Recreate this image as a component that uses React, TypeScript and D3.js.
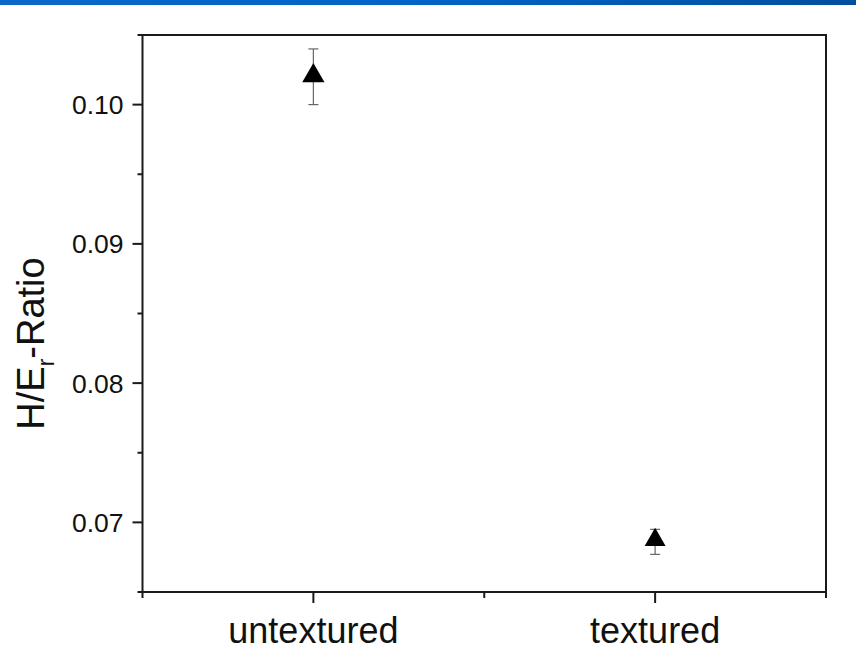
import React from "react";
import * as d3 from "d3";

// Samples and their mean H/Er ratio with error
const categories = ["untextured", "textured"];
const ratioValues = [0.102, 0.0686];
const ratioErrors = [0.002, 0.0009];
const yTickValues = [0.07, 0.08, 0.09, 0.1];
const yMinorTickValues = [0.065, 0.075, 0.085, 0.095, 0.105];

const W = 856;
const H = 662;
const margin = { left: 142.5, right: 30, top: 35, bottom: 70 };

export default function App() {
  const plotRight = W - margin.right;
  const plotBottom = H - margin.bottom;

  const x = d3.scaleLinear().domain([0.5, 2.5]).range([margin.left, plotRight]);
  const y = d3.scaleLinear().domain([0.065, 0.105]).range([plotBottom, margin.top]);

  const tri = d3.symbol().type(d3.symbolTriangle).size(215)() as string;
  const triSmall = d3.symbol().type(d3.symbolTriangle).size(190)() as string;

  const font = "'Liberation Sans', Arial, sans-serif";
  const axisColor = "#1a1a1a";

  return (
    <div style={{ position: "fixed", left: 0, top: 0 }}>
      <svg width={W} height={H} style={{ display: "block", background: "#fff" }}>
        <defs>
          <linearGradient id="band" x1="0" x2="1" y1="0" y2="0">
            <stop offset="0" stopColor="#0a68c9" />
            <stop offset="0.5" stopColor="#0064c6" />
            <stop offset="1" stopColor="#004f9e" />
          </linearGradient>
        </defs>
        <rect x={0} y={0} width={W} height={5} fill="url(#band)" />

        {/* frame */}
        <rect
          x={margin.left}
          y={margin.top}
          width={plotRight - margin.left}
          height={plotBottom - margin.top}
          fill="none"
          stroke={axisColor}
          strokeWidth={2}
        />

        {/* y axis ticks */}
        {yTickValues.map((v) => (
          <g key={`y${v}`}>
            <line x1={margin.left - 10} x2={margin.left} y1={y(v)} y2={y(v)} stroke={axisColor} strokeWidth={2} />
            <text
              x={margin.left - 19}
              y={y(v)}
              dy="0.36em"
              textAnchor="end"
              fontFamily={font}
              fontSize={26.5}
              fill="#111"
            >
              {d3.format(".2f")(v)}
            </text>
          </g>
        ))}
        {yMinorTickValues.map((v) => (
          <line key={`ym${v}`} x1={margin.left - 5} x2={margin.left} y1={y(v)} y2={y(v)} stroke={axisColor} strokeWidth={2} />
        ))}

        {/* x axis ticks */}
        {categories.map((c, i) => (
          <g key={c}>
            <line x1={x(i + 1)} x2={x(i + 1)} y1={plotBottom} y2={plotBottom + 11} stroke={axisColor} strokeWidth={2} />
            <text
              x={x(i + 1)}
              y={plotBottom + 51}
              textAnchor="middle"
              fontFamily={font}
              fontSize={36}
              fill="#111"
            >
              {c}
            </text>
          </g>
        ))}
        {[0.5, 1.5, 2.5].map((v) => (
          <line key={`xm${v}`} x1={x(v)} x2={x(v)} y1={plotBottom} y2={plotBottom + 6} stroke={axisColor} strokeWidth={2} />
        ))}

        {/* y label */}
        <text
          transform={`translate(44, ${(margin.top + plotBottom) / 2 + 30}) rotate(-90)`}
          textAnchor="middle"
          fontFamily={font}
          fontSize={38}
          fill="#111"
        >
          H/E<tspan fontSize={23} dy={10}>r</tspan>
          <tspan dy={-10}>-Ratio</tspan>
        </text>

        {/* error bars and markers */}
        {ratioValues.map((v, i) => {
          const cx = x(i + 1);
          const e = ratioErrors[i];
          return (
            <g key={`p${i}`}>
              <line x1={cx} x2={cx} y1={y(v + e)} y2={y(v - e)} stroke="#666" strokeWidth={1.2} />
              <line x1={cx - 5} x2={cx + 5} y1={y(v + e)} y2={y(v + e)} stroke="#666" strokeWidth={1.2} />
              <line x1={cx - 5} x2={cx + 5} y1={y(v - e)} y2={y(v - e)} stroke="#666" strokeWidth={1.2} />
              <path d={i === 0 ? tri : triSmall} transform={`translate(${cx}, ${y(v) + (i === 0 ? -1 : -2)})`} fill="#000" />
            </g>
          );
        })}
      </svg>
    </div>
  );
}
